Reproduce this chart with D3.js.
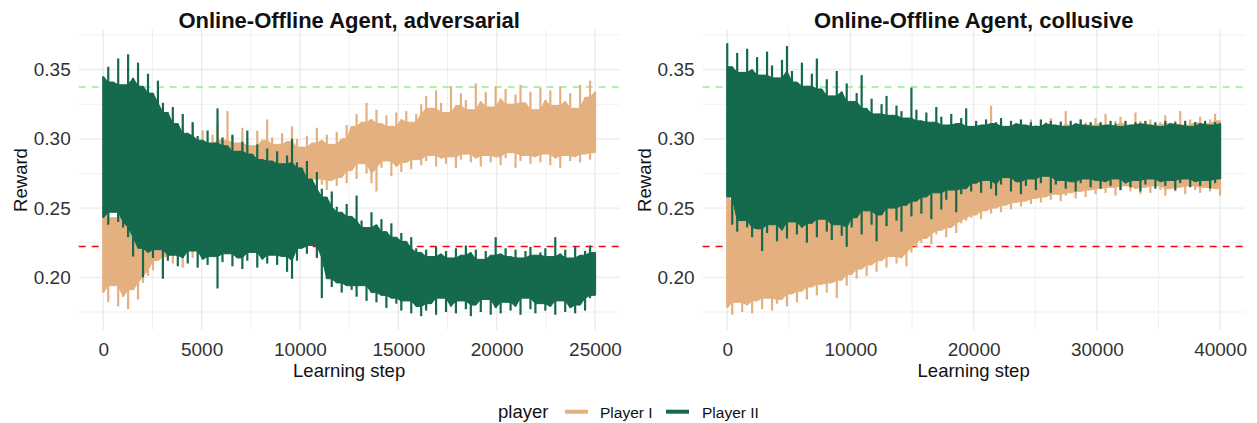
<!DOCTYPE html>
<html><head><meta charset="utf-8">
<script src="https://cdn.jsdelivr.net/npm/d3@7"></script>
<style>body{margin:0;background:#fff} svg{display:block;font-family:"Liberation Sans",Arial,Helvetica,sans-serif}</style>
</head><body><svg id="c" width="1257" height="423"></svg>
<script>
// ---------------- data ----------------
const panelTitles = ["Online-Offline Agent, adversarial", "Online-Offline Agent, collusive"];
const seriesNames = ["Player I", "Player II"];
const legendTitle = "player";
const xAxisTitle = "Learning step";
const yAxisTitle = "Reward";

const advMaxStep = 25000;
const colMaxStep = 40000;

// Rewards: per equal window of learning steps,
// the highest and lowest value the noisy line reaches (100 windows each).

// adversarial, Player I
const advPlayerIHigh = [
0.248,0.255,0.243,0.251,0.246, 0.258,0.249,0.262,0.268,0.275,
0.292,0.288,0.318,0.297,0.305, 0.294,0.309,0.301,0.312,0.298,
0.306,0.296,0.303,0.311,0.299, 0.320,0.302,0.297,0.308,0.300,
0.295,0.306,0.299,0.314,0.301, 0.296,0.304,0.298,0.309,0.300,
0.294,0.302,0.297,0.308,0.299, 0.303,0.296,0.305,0.300,0.310,
0.309,0.318,0.312,0.326,0.314, 0.321,0.311,0.317,0.309,0.319,
0.314,0.320,0.312,0.318,0.325, 0.331,0.322,0.335,0.326,0.319,
0.338,0.324,0.333,0.328,0.321, 0.340,0.327,0.334,0.323,0.338,
0.329,0.336,0.325,0.332,0.339, 0.326,0.334,0.321,0.337,0.328,
0.335,0.324,0.338,0.327,0.333, 0.322,0.339,0.330,0.342,0.334];
const advPlayerILow = [
0.189,0.182,0.194,0.179,0.186, 0.177,0.191,0.184,0.196,0.201,
0.205,0.212,0.203,0.215,0.210, 0.218,0.207,0.223,0.214,0.226,
0.231,0.238,0.229,0.242,0.235, 0.240,0.246,0.237,0.244,0.249,
0.243,0.251,0.247,0.252,0.255, 0.250,0.258,0.254,0.259,0.262,
0.266,0.268,0.264,0.271,0.267, 0.263,0.270,0.266,0.272,0.268,
0.277,0.271,0.282,0.275,0.268, 0.262,0.279,0.284,0.273,0.280,
0.276,0.283,0.278,0.285,0.281, 0.284,0.288,0.280,0.286,0.282,
0.287,0.279,0.285,0.289,0.283, 0.286,0.280,0.288,0.283,0.287,
0.281,0.286,0.290,0.279,0.284, 0.288,0.282,0.287,0.283,0.289,
0.281,0.286,0.279,0.288,0.284, 0.287,0.283,0.289,0.285,0.290];

// adversarial, Player II
const advPlayerIIHigh = [
0.345,0.352,0.341,0.358,0.339, 0.361,0.344,0.355,0.338,0.347,
0.333,0.342,0.326,0.319,0.323, 0.311,0.318,0.304,0.312,0.302,
0.299,0.306,0.297,0.322,0.301, 0.295,0.303,0.291,0.298,0.306,
0.289,0.296,0.285,0.293,0.284, 0.291,0.282,0.288,0.300,0.283,
0.279,0.284,0.271,0.276,0.264, 0.258,0.262,0.251,0.247,0.253,
0.244,0.259,0.241,0.236,0.247, 0.238,0.242,0.233,0.239,0.229,
0.232,0.226,0.229,0.221,0.218, 0.220,0.215,0.222,0.217,0.219,
0.214,0.221,0.216,0.223,0.218, 0.220,0.213,0.219,0.216,0.229,
0.217,0.221,0.215,0.220,0.214, 0.219,0.222,0.216,0.218,0.221,
0.215,0.229,0.217,0.220,0.214, 0.222,0.216,0.219,0.223,0.218];
const advPlayerIILow = [
0.243,0.238,0.247,0.240,0.236, 0.229,0.215,0.221,0.200,0.218,
0.214,0.220,0.199,0.212,0.216, 0.208,0.214,0.210,0.219,0.207,
0.213,0.209,0.215,0.192,0.211, 0.217,0.208,0.214,0.206,0.212,
0.218,0.207,0.213,0.210,0.216, 0.209,0.215,0.204,0.199,0.212,
0.221,0.217,0.223,0.214,0.185, 0.199,0.193,0.196,0.189,0.194,
0.191,0.186,0.194,0.183,0.189, 0.182,0.187,0.178,0.185,0.181,
0.176,0.183,0.174,0.179,0.172, 0.176,0.181,0.173,0.185,0.175,
0.179,0.174,0.183,0.177,0.172, 0.180,0.175,0.184,0.173,0.178,
0.174,0.182,0.176,0.179,0.173, 0.185,0.177,0.174,0.181,0.176,
0.179,0.173,0.183,0.175,0.178, 0.174,0.180,0.176,0.185,0.187];

// collusive, Player I
const colPlayerIHigh = [
0.258,0.262,0.255,0.266,0.259, 0.264,0.257,0.268,0.261,0.270,
0.263,0.267,0.272,0.265,0.269, 0.274,0.266,0.271,0.276,0.268,
0.273,0.279,0.270,0.277,0.281, 0.275,0.280,0.284,0.278,0.286,
0.282,0.288,0.279,0.285,0.290, 0.283,0.287,0.292,0.286,0.291,
0.295,0.289,0.297,0.293,0.299, 0.296,0.301,0.298,0.303,0.300,
0.305,0.310,0.307,0.324,0.309, 0.312,0.306,0.311,0.308,0.313,
0.309,0.314,0.310,0.307,0.312, 0.315,0.308,0.313,0.320,0.311,
0.309,0.314,0.312,0.310,0.315, 0.311,0.318,0.309,0.313,0.316,
0.312,0.310,0.319,0.313,0.311, 0.314,0.310,0.312,0.317,0.311,
0.313,0.320,0.310,0.314,0.312, 0.316,0.311,0.314,0.318,0.313];
const colPlayerILow = [
0.178,0.173,0.182,0.175,0.180, 0.174,0.183,0.177,0.185,0.176,
0.181,0.184,0.179,0.188,0.182, 0.190,0.184,0.193,0.187,0.195,
0.189,0.196,0.185,0.198,0.194, 0.202,0.199,0.206,0.201,0.209,
0.204,0.212,0.207,0.215,0.210, 0.214,0.208,0.218,0.222,0.225,
0.228,0.224,0.231,0.234,0.229, 0.236,0.232,0.239,0.241,0.243,
0.245,0.242,0.248,0.246,0.250, 0.247,0.252,0.249,0.254,0.251,
0.255,0.253,0.257,0.254,0.258, 0.256,0.260,0.255,0.259,0.261,
0.257,0.262,0.258,0.263,0.260, 0.264,0.261,0.265,0.259,0.263,
0.266,0.262,0.264,0.260,0.265, 0.261,0.266,0.263,0.259,0.264,
0.262,0.265,0.260,0.266,0.263, 0.261,0.265,0.262,0.264,0.259];

// collusive, Player II
const colPlayerIIHigh = [
0.369,0.352,0.362,0.348,0.365, 0.350,0.359,0.346,0.363,0.353,
0.344,0.357,0.367,0.349,0.341, 0.355,0.338,0.347,0.358,0.336,
0.343,0.331,0.349,0.334,0.340, 0.327,0.333,0.346,0.322,0.329,
0.318,0.325,0.331,0.317,0.324, 0.320,0.315,0.337,0.321,0.313,
0.319,0.312,0.323,0.316,0.310, 0.318,0.311,0.315,0.322,0.309,
0.313,0.310,0.314,0.311,0.312, 0.315,0.309,0.313,0.311,0.314,
0.310,0.312,0.309,0.314,0.311, 0.313,0.310,0.312,0.309,0.313,
0.311,0.314,0.310,0.312,0.309, 0.312,0.310,0.313,0.311,0.309,
0.313,0.310,0.312,0.311,0.313, 0.310,0.312,0.309,0.313,0.311,
0.312,0.310,0.313,0.309,0.312, 0.311,0.313,0.310,0.312,0.311];
const colPlayerIILow = [
0.258,0.238,0.233,0.241,0.236, 0.229,0.235,0.219,0.232,0.238,
0.226,0.234,0.228,0.240,0.231, 0.236,0.225,0.239,0.229,0.242,
0.233,0.227,0.238,0.230,0.222, 0.236,0.243,0.231,0.248,0.238,
0.226,0.245,0.237,0.250,0.241, 0.233,0.252,0.244,0.255,0.246,
0.258,0.242,0.261,0.249,0.256, 0.263,0.247,0.260,0.264,0.262,
0.268,0.261,0.270,0.264,0.259, 0.267,0.272,0.262,0.269,0.260,
0.266,0.271,0.263,0.268,0.273, 0.261,0.267,0.270,0.264,0.269,
0.262,0.268,0.271,0.265,0.270, 0.264,0.269,0.266,0.271,0.263,
0.268,0.265,0.270,0.262,0.267, 0.271,0.264,0.269,0.266,0.270,
0.263,0.268,0.271,0.265,0.269, 0.266,0.270,0.264,0.268,0.271];

const advXTicks = [0, 5000, 10000, 15000, 20000, 25000];
const advXMinor = [2500, 7500, 12500, 17500, 22500];
const colXTicks = [0, 10000, 20000, 30000, 40000];
const colXMinor = [5000, 15000, 25000, 35000];
const yTicks = [0.20, 0.25, 0.30, 0.35];
const yMinor = [0.175, 0.225, 0.275, 0.325, 0.375];
const monopolyReward = 0.3375;
const nashReward = 0.2222;

// ---------------- styling / layout ----------------
const colors = {"Player I": "#E4B07F", "Player II": "#15694D"};
const svg = d3.select("#c");
const plotTop = 29.4, plotBottom = 330;
const y = d3.scaleLinear().domain([0.162, 0.379]).range([plotBottom, plotTop]);

const panels = [
  {title: panelTitles[0], x0: 78.7, x1: 619.6, max: advMaxStep, dom: [-1250, 26250],
   ticks: advXTicks, minor: advXMinor,
   series: [[advPlayerIHigh, advPlayerILow], [advPlayerIIHigh, advPlayerIILow]]},
  {title: panelTitles[1], x0: 702.6, x1: 1244.7, max: colMaxStep, dom: [-2000, 42000],
   ticks: colXTicks, minor: colXMinor,
   series: [[colPlayerIHigh, colPlayerILow], [colPlayerIIHigh, colPlayerIILow]]}
];

const gridCol = "#EBEBEB";

panels.forEach(p => {
  const x = d3.scaleLinear().domain(p.dom).range([p.x0, p.x1]);
  const g = svg.append("g");

  g.selectAll(".hmin").data(yMinor).join("line")
    .attr("x1", p.x0).attr("x2", p.x1).attr("y1", d => y(d)).attr("y2", d => y(d))
    .attr("stroke", gridCol).attr("stroke-width", 0.75);
  g.selectAll(".vmin").data(p.minor).join("line")
    .attr("y1", plotTop).attr("y2", plotBottom).attr("x1", d => x(d)).attr("x2", d => x(d))
    .attr("stroke", gridCol).attr("stroke-width", 0.75);
  g.selectAll(".hmaj").data(yTicks).join("line")
    .attr("x1", p.x0).attr("x2", p.x1).attr("y1", d => y(d)).attr("y2", d => y(d))
    .attr("stroke", gridCol).attr("stroke-width", 1.4);
  g.selectAll(".vmaj").data(p.ticks).join("line")
    .attr("y1", plotTop).attr("y2", plotBottom).attr("x1", d => x(d)).attr("x2", d => x(d))
    .attr("stroke", gridCol).attr("stroke-width", 1.4);

  g.append("line").attr("x1", p.x0).attr("x2", p.x1)
    .attr("y1", y(monopolyReward)).attr("y2", y(monopolyReward))
    .attr("stroke", "#90EE90").attr("stroke-width", 1.5).attr("stroke-dasharray", "7,6");
  g.append("line").attr("x1", p.x0).attr("x2", p.x1)
    .attr("y1", y(nashReward)).attr("y2", y(nashReward))
    .attr("stroke", "#FF0000").attr("stroke-width", 1.5).attr("stroke-dasharray", "7,6");

  p.series.forEach(([hi, lo], si) => {
    const n = hi.length;
    const col = colors[seriesNames[si]];
    const pts = hi.map((h, i) => {
      const a = Math.max(0, i - 1), b = Math.min(n - 1, i + 1);
      return {
        s: i * p.max / (n - 1), h, l: lo[i],
        ch: d3.min(hi.slice(a, b + 1)),   // dense core of the noisy line
        cl: d3.max(lo.slice(a, b + 1))
      };
    });
    const core = d3.area().x(d => x(d.s)).y0(d => y(d.cl)).y1(d => y(d.ch));
    const sg = g.append("g");
    sg.append("path").datum(pts).attr("d", core)
      .attr("fill", col).attr("stroke", col).attr("stroke-width", 1);
    sg.selectAll("line.spike").data(pts).join("line").attr("class", "spike")
      .attr("x1", d => x(d.s)).attr("x2", d => x(d.s))
      .attr("y1", d => y(d.l)).attr("y2", d => y(d.h))
      .attr("stroke", col).attr("stroke-width", 2.2);
  });

  const xa = g.append("g").attr("transform", `translate(0,${plotBottom})`)
    .call(d3.axisBottom(x).tickValues(p.ticks).tickSize(0).tickPadding(13).tickFormat(d3.format("d")));
  xa.select(".domain").remove();
  xa.selectAll("text").attr("font-size", 19).attr("fill", "#333").attr("font-family", "Liberation Sans, Arial, sans-serif");

  const ya = g.append("g").attr("transform", `translate(${p.x0},0)`)
    .call(d3.axisLeft(y).tickValues(yTicks).tickSize(0).tickPadding(8).tickFormat(d3.format(".2f")));
  ya.select(".domain").remove();
  ya.selectAll("text").attr("font-size", 19).attr("fill", "#333").attr("font-family", "Liberation Sans, Arial, sans-serif");

  const cx = (p.x0 + p.x1) / 2;
  g.append("text").attr("x", cx).attr("y", 28).attr("text-anchor", "middle")
    .attr("font-size", 22).attr("font-weight", "bold").attr("fill", "#111").text(p.title);
  g.append("text").attr("x", cx).attr("y", 377).attr("text-anchor", "middle")
    .attr("font-size", 18.5).attr("fill", "#111").text(xAxisTitle);
  g.append("text").attr("transform", `translate(${p.x0 - 51.7},180) rotate(-90)`)
    .attr("text-anchor", "middle").attr("font-size", 18.5).attr("fill", "#111").text(yAxisTitle);
});

const lg = svg.append("g");
lg.append("text").attr("x", 498).attr("y", 418).attr("font-size", 18.5).attr("fill", "#111").text(legendTitle);
const legendItems = [{name: seriesNames[0], sx: 565, tx: 600}, {name: seriesNames[1], sx: 666, tx: 702}];
legendItems.forEach(it => {
  lg.append("line").attr("x1", it.sx).attr("x2", it.sx + 23).attr("y1", 411.7).attr("y2", 411.7)
    .attr("stroke", colors[it.name]).attr("stroke-width", 4);
  lg.append("text").attr("x", it.tx).attr("y", 418).attr("font-size", 15.5).attr("fill", "#111").text(it.name);
});
</script>
</body></html>
